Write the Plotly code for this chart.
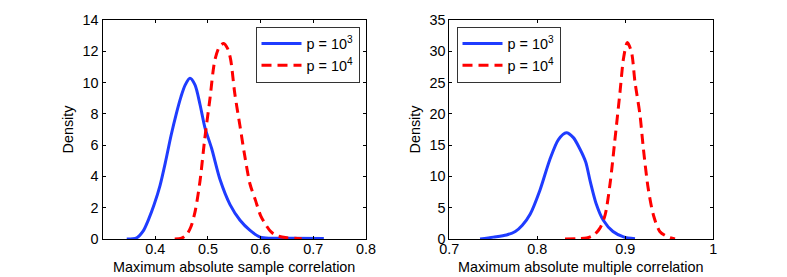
import plotly.graph_objects as go

# ---- data ----
# Left panel: maximum absolute sample correlation
samp_x_p3 = [0.346, 0.365, 0.377, 0.388, 0.398, 0.409, 0.420, 0.430, 0.440, 0.449, 0.457,
             0.466, 0.4755, 0.485, 0.4945, 0.507, 0.523, 0.542, 0.561, 0.580, 0.599, 0.62, 0.66, 0.72]
samp_d_p3 = [0.0, 0.08, 0.5, 1.3, 2.2, 3.4, 5.0, 6.6, 8.0, 9.1, 9.85,
             10.27, 9.85, 8.6, 7.1, 5.8, 3.8, 2.2, 1.2, 0.55, 0.12, 0.05, 0.04, 0.03]
samp_x_p4 = [0.437, 0.450, 0.460, 0.468, 0.476, 0.485, 0.494, 0.504, 0.513, 0.522, 0.530,
             0.537, 0.543, 0.551, 0.561, 0.570, 0.580, 0.590, 0.600, 0.610, 0.620, 0.632, 0.650, 0.678]
samp_d_p4 = [0.0, 0.05, 0.3, 0.8, 1.8, 3.7, 6.4, 9.0, 11.4, 12.3, 12.5,
             12.2, 11.5, 9.3, 7.2, 5.3, 3.5, 2.5, 1.5, 0.9, 0.45, 0.2, 0.08, 0.02]

# Right panel: maximum absolute multiple correlation
mult_x_p3 = [0.735, 0.750, 0.765, 0.775, 0.783, 0.792, 0.803, 0.814, 0.824, 0.833, 0.841,
             0.848, 0.855, 0.860, 0.867, 0.875, 0.886, 0.898, 0.911]
mult_d_p3 = [0.0, 0.3, 0.65, 1.2, 2.2, 4.0, 7.8, 12.6, 15.9, 17.0, 16.2,
             14.5, 12.3, 9.3, 5.6, 3.0, 1.2, 0.35, 0.05]
mult_x_p4 = [0.8315, 0.845, 0.856, 0.864, 0.871, 0.877, 0.883, 0.888, 0.894, 0.898, 0.9023,
             0.907, 0.911, 0.9167, 0.9205, 0.926, 0.932, 0.9394, 0.949, 0.9565]
mult_d_p4 = [0.0, 0.05, 0.15, 0.6, 1.7, 3.8, 9.2, 15.6, 23.5, 28.9, 31.4,
             29.9, 25.1, 19.8, 14.5, 8.1, 3.8, 1.17, 0.3, 0.0]

series_names = ["p = 10<sup>3</sup>", "p = 10<sup>4</sup>"]
left_xticks = [0.4, 0.5, 0.6, 0.7, 0.8]
left_yticks = [0, 2, 4, 6, 8, 10, 12, 14]
right_xticks = [0.7, 0.8, 0.9, 1.0]
right_xticklabels = ["0.7", "0.8", "0.9", "1"]
right_yticks = [0, 5, 10, 15, 20, 25, 30, 35]
x_titles = ["Maximum absolute sample correlation", "Maximum absolute multiple correlation"]
y_title = "Density"

BLUE = "#1f3cff"
RED = "#ff0000"
FONT = "Liberation Sans, Arial, Helvetica, sans-serif"
FS = 14.4

fig = go.Figure()

def add(x, y, name, color, dash, xa, ya, leg):
    fig.add_trace(go.Scatter(
        x=x, y=y, name=name, mode="lines",
        line=dict(color=color, width=3, dash=dash, shape="spline", smoothing=0.8),
        xaxis=xa, yaxis=ya, legend=leg, hoverinfo="skip"))

add(samp_x_p3, samp_d_p3, series_names[0], BLUE, "solid", "x", "y", "legend")
add(samp_x_p4, samp_d_p4, series_names[1], RED, "10px,6px", "x", "y", "legend")
add(mult_x_p3, mult_d_p3, series_names[0], BLUE, "solid", "x2", "y2", "legend2")
add(mult_x_p4, mult_d_p4, series_names[1], RED, "10px,6px", "x2", "y2", "legend2")

W, H = 787, 277
ydom = [(H - 239) / H, (H - 20) / H]

axis_common = dict(
    showline=True, linecolor="black", linewidth=1, mirror="allticks",
    ticks="inside", ticklen=3, tickcolor="black", showgrid=False, zeroline=False,
    automargin=False,
    tickfont=dict(family=FONT, size=FS, color="black"),
)

legend_common = dict(
    bgcolor="white", bordercolor="#333333", borderwidth=1,
    font=dict(family=FONT, size=FS, color="black"),
    yanchor="top", tracegroupgap=0, itemwidth=40,
)

fig.update_layout(
    template="none",
    width=W, height=H,
    margin=dict(l=0, r=0, t=0, b=0, autoexpand=False),
    paper_bgcolor="white", plot_bgcolor="white",
    font=dict(family=FONT, size=FS, color="black"),
    xaxis=dict(domain=[102.5 / W, 366 / W], range=[0.3, 0.8], tickvals=left_xticks,
               ticktext=[f"{v:.1f}" for v in left_xticks], anchor="y",
               ticklabelstandoff=-3, **axis_common),
    yaxis=dict(domain=ydom, range=[0, 14], tickvals=left_yticks, anchor="x",
               **axis_common),
    xaxis2=dict(domain=[449.3 / W, 713.3 / W], range=[0.7, 1.0], tickvals=right_xticks,
                ticktext=right_xticklabels, anchor="y2",
                ticklabelstandoff=-3, **axis_common),
    yaxis2=dict(domain=ydom, range=[0, 35], tickvals=right_yticks, anchor="x2",
                **axis_common),
    legend=dict(x=359.5 / W, xanchor="right", y=(H - 26.7) / H, **legend_common),
    legend2=dict(x=456.5 / W, xanchor="left", y=(H - 26.7) / H, **legend_common),
    showlegend=True,
)

# axis titles as annotations for exact placement
for xa, title in (("x", x_titles[0]), ("x2", x_titles[1])):
    fig.add_annotation(text=title, xref=f"{xa} domain", x=0.5, yref="paper",
                       y=(H - 267) / H, yanchor="middle", xanchor="center",
                       showarrow=False, font=dict(family=FONT, size=FS, color="black"))
for xpix in (67, 414):
    fig.add_annotation(text=y_title, xref="paper", x=xpix / W, yref="paper",
                       y=(H - 129.5) / H, textangle=-90, xanchor="center",
                       yanchor="middle", showarrow=False,
                       font=dict(family=FONT, size=FS, color="black"))

fig.write_html("out.html", config={"displayModeBar": False},
               post_script="document.body.style.margin='0';")
